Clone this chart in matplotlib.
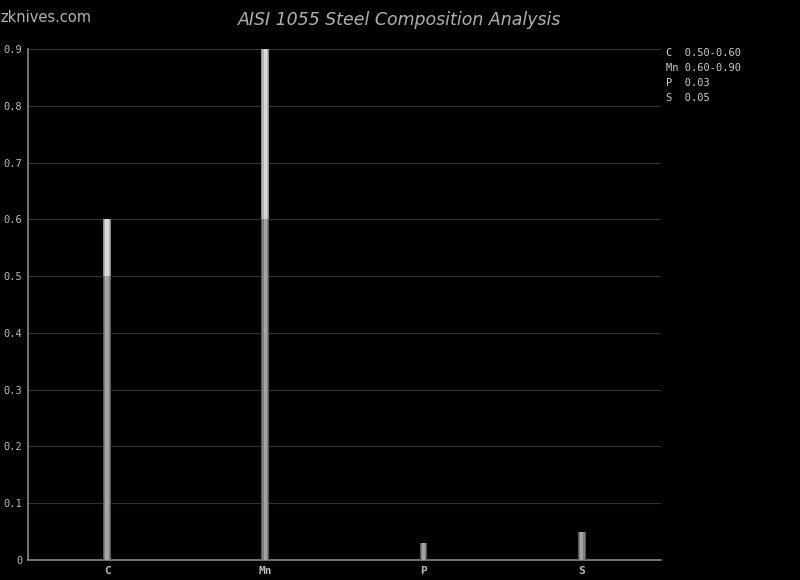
import matplotlib
matplotlib.use("Agg")
import matplotlib.pyplot as plt

# composicao AISI 1055 (% em massa)
elementos = ["C", "Mn", "P", "S"]
val_min = [0.50, 0.60, 0.03, 0.05]
val_max = [0.60, 0.90, 0.03, 0.05]
faixas = ["0.50-0.60", "0.60-0.90", "0.03", "0.05"]
yticks = [0, 0.1, 0.2, 0.3, 0.4, 0.5, 0.6, 0.7, 0.8, 0.9]
ytick_labels = ["0", "0.1", "0.2", "0.3", "0.4", "0.5", "0.6", "0.7", "0.8", "0.9"]

fig = plt.figure(figsize=(8, 5.8), dpi=100, facecolor="black")
ax = fig.add_axes([0.035, 0.0345, 0.791, 0.881], facecolor="black")

x = list(range(len(elementos)))
larg = 0.05
# camadas para imitar o sombreado cilindrico
camadas_baixo = [(1.0, "#5a5a5a"), (0.75, "#7e7e7e"), (0.45, "#a4a4a4")]
camadas_cima = [(1.0, "#8c8c8c"), (0.75, "#b4b4b4"), (0.45, "#d8d8d8")]
for f, c in camadas_baixo:
    ax.bar(x, val_min, width=larg * f, color=c, zorder=3)
extra = [mx - mn for mn, mx in zip(val_min, val_max)]
for f, c in camadas_cima:
    ax.bar(x, extra, bottom=val_min, width=larg * f, color=c, zorder=3)

ax.set_xlim(-0.5, 3.5)
ax.set_ylim(0, 0.9)
ax.set_yticks(yticks)
ax.set_yticklabels(ytick_labels, family="DejaVu Sans Mono", fontsize=7.5, color="#bbbbbb")
ax.set_xticks(x)
ax.set_xticklabels(elementos, family="DejaVu Sans Mono", fontsize=8, color="#bbbbbb", fontweight="bold")
ax.tick_params(length=0, pad=4)
ax.grid(axis="y", color="#333333", lw=0.8, zorder=0)
for s in ["top", "right"]:
    ax.spines[s].set_visible(False)
for s in ["left", "bottom"]:
    ax.spines[s].set_color("#888888")
    ax.spines[s].set_linewidth(1.2)

fig.text(0.5, 0.965, "AISI 1055 Steel Composition Analysis", ha="center", va="center",
         fontsize=12.5, style="italic", color="#b0b0b0")
fig.text(0.001, 0.97, "zknives.com", ha="left", va="center", fontsize=10.5, color="#b4b4b4")

for i, (el, fx) in enumerate(zip(elementos, faixas)):
    fig.text(0.832, 1 - (53 + 15 * i) / 580, f"{el:<2} {fx}", ha="left", va="center",
             family="DejaVu Sans Mono", fontsize=7.5, color="#cccccc")

plt.savefig("out.png", dpi=100, facecolor="black")
